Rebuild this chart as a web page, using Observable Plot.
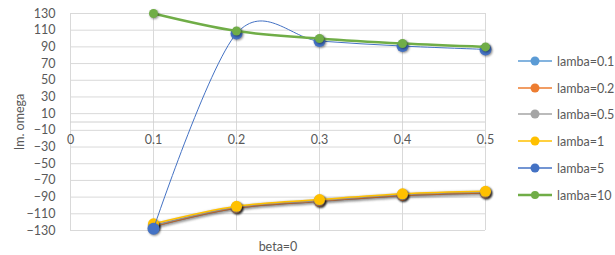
<!DOCTYPE html>
<html>
<head>
<meta charset="utf-8">
<script src="https://cdn.jsdelivr.net/npm/d3@7"></script>
<script src="https://cdn.jsdelivr.net/npm/@observablehq/plot@0.6"></script>
<style>
  html, body { margin: 0; padding: 0; background: #fff; }
  #wrap { position: relative; width: 615px; height: 255px; font-family: Lato, "Noto Sans", sans-serif; }
  #legend { position: absolute; left: 516px; top: 0; }
  .item { position: absolute; left: 0; height: 16px; display: flex; align-items: center; white-space: nowrap; font-size: 12.5px; color: #595959; }
  .item svg { margin-right: 3px; }
  .shadow circle { filter: drop-shadow(1px 1.5px 1.2px rgba(0,0,0,0.45)); }
  .lshadow path { filter: drop-shadow(1px 1.5px 1.5px rgba(0,0,0,0.35)); }
</style>
</head>
<body>
<div id="wrap"><div id="legend"></div></div>
<script>
const betas = [0.1, 0.2, 0.3, 0.4, 0.5];
const seriesNames = ["lamba=0.1", "lamba=0.2", "lamba=0.5", "lamba=1", "lamba=5", "lamba=10"];
const lamba01 = [-125, -103, -95, -88, -85];
const lamba02 = [-125, -103, -95, -88, -85];
const lamba05 = [-124, -102, -94, -87, -84];
const lamba1  = [-122, -101, -93, -86, -83];
const lamba5  = [-128, 106, 97, 91, 87];
const lamba10 = [130, 109, 100, 94, 90];
const colors = ["#5B9BD5", "#ED7D31", "#A5A5A5", "#FFC000", "#4472C4", "#70AD47"];
const lineWidths = [1.5, 1.5, 1.5, 1.5, 1, 2.5];
const dotRadii = [5.5, 5.5, 5.5, 5.5, 6, 4.5];
const yTicks = d3.range(-130, 131, 20);
const xTicks = [0, 0.1, 0.2, 0.3, 0.4, 0.5];
const xTickLabels = ["0", "0.1", "0.2", "0.3", "0.4", "0.5"];

const allValues = [lamba01, lamba02, lamba05, lamba1, lamba5, lamba10];
const data = [];
allValues.forEach((vals, i) => vals.forEach((v, j) => data.push({series: seriesNames[i], beta: betas[j], value: v})));

const marks = [
  Plot.gridY(yTicks, {stroke: "#d9d9d9", strokeOpacity: 1, strokeWidth: 1}),
  Plot.gridX(xTicks, {stroke: "#d9d9d9", strokeOpacity: 1, strokeWidth: 1}),
  Plot.ruleY([0], {stroke: "#d0d0d0", strokeWidth: 1}),
  Plot.axisY(yTicks, {tickSize: 0, tickPadding: 15, fontSize: 12.5, fill: "#595959",
    label: "Im. omega", labelAnchor: "center", labelArrow: "none", labelOffset: 55}),
  Plot.axisX([], {tickSize: 0, label: "beta=0", labelAnchor: "center", labelArrow: "none", labelOffset: 20, fontSize: 12.5, fill: "#595959"}),
  Plot.text(xTicks, {x: d => d, y: () => 0, dy: 18, text: (d, i) => xTickLabels[i], fontSize: 12.5, fill: "#595959"})
];
seriesNames.forEach((name, i) => {
  const rows = data.filter(d => d.series === name);
  marks.push(Plot.line(rows, {x: "beta", y: "value", stroke: colors[i], strokeWidth: lineWidths[i], curve: "cardinal", tension: 0, className: i < 4 ? "lshadow" : "plain"}));
  marks.push(Plot.dot(rows, {x: "beta", y: "value", r: dotRadii[i], fill: colors[i], stroke: "none", className: "shadow"}));
});

const chart = Plot.plot({
  width: 615,
  height: 255,
  marginLeft: 70,
  marginRight: 130,
  marginTop: 13,
  marginBottom: 25,
  style: {fontFamily: "Lato, 'Noto Sans', sans-serif", fontSize: "12.5px", color: "#595959", background: "#fff", overflow: "visible"},
  x: {domain: [0, 0.5]},
  y: {domain: [-130, 130]},
  marks
});
document.getElementById("wrap").prepend(chart);

const legend = document.getElementById("legend");
const legendTops = [53, 80, 106, 133, 160, 187];
seriesNames.forEach((name, i) => {
  const item = document.createElement("div");
  item.className = "item";
  item.style.top = legendTops[i] + "px";
  item.innerHTML = `<svg width="38" height="16"><line x1="2" x2="36" y1="8" y2="8" stroke="${colors[i]}" stroke-width="${i === 5 ? 2.5 : 1.5}"/><circle cx="19" cy="8" r="${i === 5 ? 4 : 4.5}" fill="${colors[i]}"/></svg><span>${name}</span>`;
  legend.appendChild(item);
});
</script>
</body>
</html>
